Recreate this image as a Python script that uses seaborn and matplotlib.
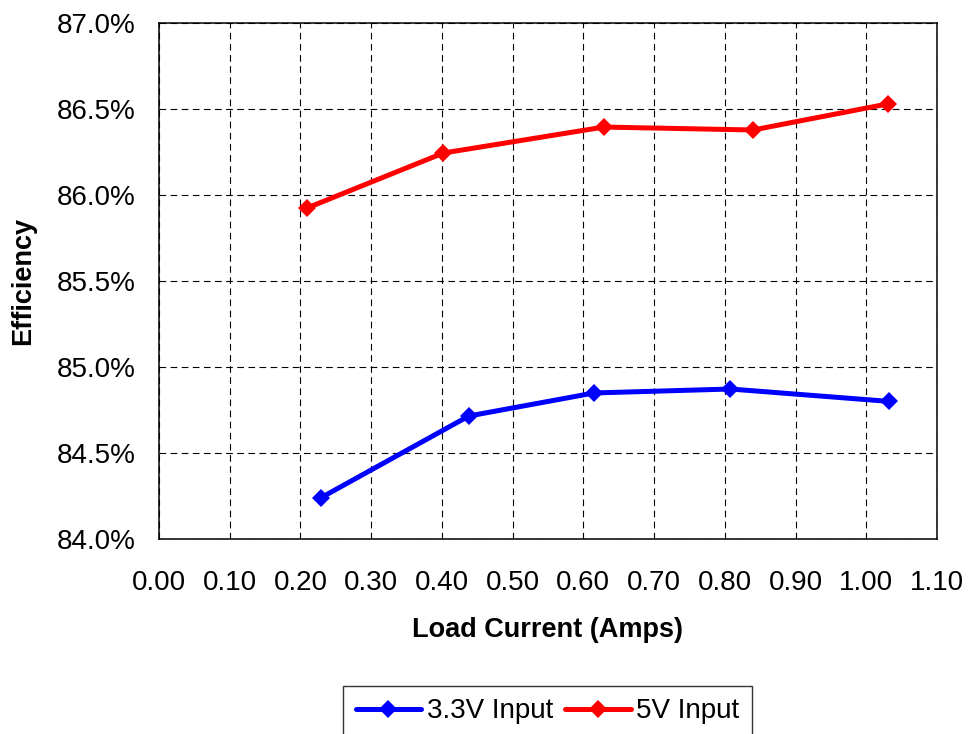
import matplotlib
matplotlib.use("Agg")
import matplotlib.pyplot as plt
from matplotlib.ticker import PercentFormatter, MultipleLocator
import pandas as pd
import seaborn as sns

# load current (A) and efficiency (%)
current_33v = [0.229, 0.438, 0.615, 0.808, 1.032]
eff_33v = [84.24, 84.715, 84.849, 84.872, 84.80]
current_5v = [0.209, 0.402, 0.629, 0.840, 1.031]
eff_5v = [85.924, 86.244, 86.395, 86.378, 86.53]
series_names = ["3.3V Input", "5V Input"]
series_colors = ["#0000FF", "#FF0000"]

sns.set_style("white")
plt.rcParams["font.family"] = ["Liberation Sans", "DejaVu Sans"]
plt.rcParams["text.color"] = "black"
plt.rcParams["axes.labelcolor"] = "black"

df = pd.concat(
    [
        pd.DataFrame({"current": current_33v, "eff": eff_33v, "series": series_names[0]}),
        pd.DataFrame({"current": current_5v, "eff": eff_5v, "series": series_names[1]}),
    ],
    ignore_index=True,
)

fig = plt.figure(figsize=(9.69, 7.34), dpi=100)
ax = fig.add_axes([159 / 969, 1 - 539 / 734, 778 / 969, 516 / 734])

sns.lineplot(
    data=df,
    x="current",
    y="eff",
    hue="series",
    hue_order=series_names,
    palette=series_colors,
    marker="D",
    markersize=9.5,
    markeredgewidth=0,
    linewidth=3.6,
    ax=ax,
    legend=False,
)

ax.set_xlim(0, 1.1)
ax.set_ylim(84.0, 87.0)
ax.xaxis.set_major_locator(MultipleLocator(0.1))
ax.yaxis.set_major_locator(MultipleLocator(0.5))
ax.xaxis.set_major_formatter(plt.FuncFormatter(lambda v, _: f"{v:.2f}"))
ax.yaxis.set_major_formatter(PercentFormatter(decimals=1))
ax.tick_params(axis="both", length=0, labelsize=20, colors="black")
ax.tick_params(axis="x", pad=22)
ax.tick_params(axis="y", pad=17)

ax.grid(True, color="black", linestyle=(0, (6, 4)), linewidth=0.8)
for spine in ax.spines.values():
    spine.set_color("black")
    spine.set_linewidth(1.1)

ax.set_xlabel("Load Current (Amps)", fontsize=19.5, fontweight="bold", color="black")
ax.set_ylabel("Efficiency", fontsize=19.5, fontweight="bold", color="black")
ax.xaxis.set_label_coords(0.5, -0.152)
ax.yaxis.set_label_coords(-0.158, 0.5)

handles = ax.get_lines()[: len(series_names)]
leg = fig.legend(
    handles,
    series_names,
    loc="upper center",
    bbox_to_anchor=(547.5 / 969, 1 - 686 / 734),
    ncol=2,
    fontsize=20,
    frameon=True,
    fancybox=False,
    handlelength=2.35,
    handletextpad=0.2,
    columnspacing=0.45,
    borderpad=0.45,
    borderaxespad=0,
)
leg.get_frame().set_edgecolor("black")
leg.get_frame().set_linewidth(1.0)

fig.savefig("out.png", dpi=100)
